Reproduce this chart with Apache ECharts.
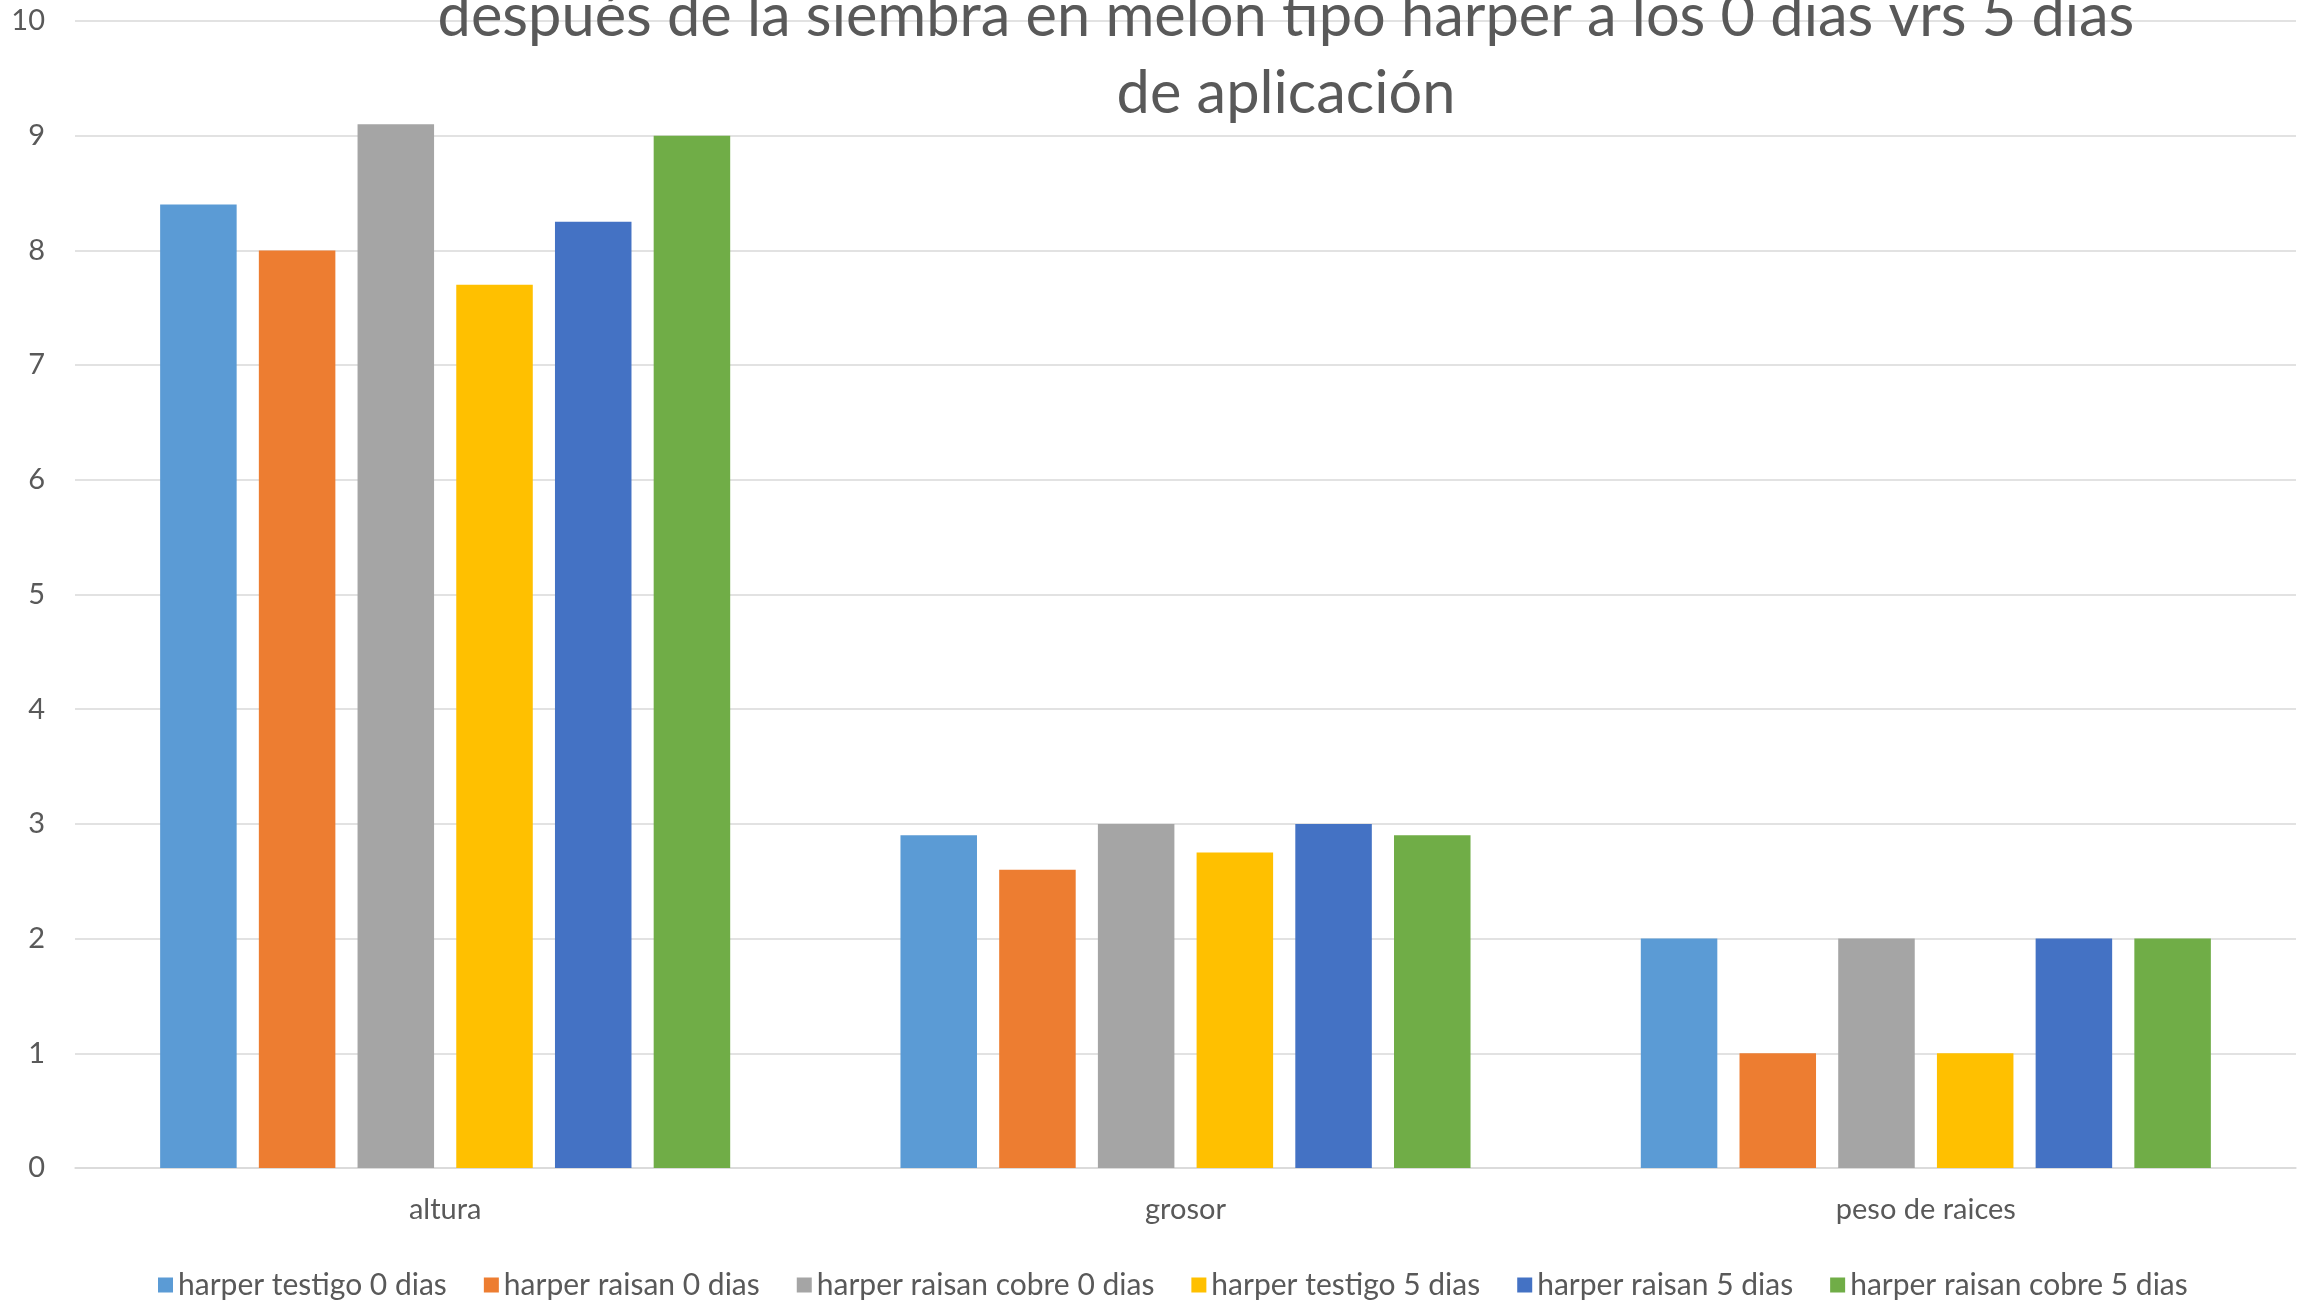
<!DOCTYPE html>
<html>
<head>
<meta charset="utf-8">
<script src="https://cdn.jsdelivr.net/npm/echarts@6/dist/echarts.min.js"></script>
<style>
  html, body { margin: 0; padding: 0; background: #fff; }
  #main { width: 2311px; height: 1301px; }
</style>
</head>
<body>
<div id="main"></div>
<script>
// datos
var categorias = ['altura', 'grosor', 'peso de raices'];
var testigo0 = [8.4, 2.9, 2];
var raisan0 = [8, 2.6, 1];
var raisanCobre0 = [9.1, 3, 2];
var testigo5 = [7.7, 2.75, 1];
var raisan5 = [8.25, 3, 2];
var raisanCobre5 = [9, 2.9, 2];
var nombres = [
    'harper testigo 0 dias',
    'harper raisan 0 dias',
    'harper raisan cobre 0 dias',
    'harper testigo 5 dias',
    'harper raisan 5 dias',
    'harper raisan cobre 5 dias'
];
var colores = ['#5B9BD5', '#ED7D31', '#A5A5A5', '#FFC000', '#4472C4', '#70AD47'];

var fuente = 'Lato, "Open Sans", sans-serif';
var valores = [testigo0, raisan0, raisanCobre0, testigo5, raisan5, raisanCobre5];

var myChart = echarts.init(document.getElementById('main'));
var option = {
    color: colores,
    animation: false,
    title: {
        text: 'después de la siembra en melon tipo harper a los 0 dias vrs 5 dias\nde aplicación',
        left: 1281,
        top: -27,
        textAlign: 'center',
        textStyle: {
            fontFamily: fuente,
            fontSize: 59.5,
            lineHeight: 77,
            fontWeight: 'normal',
            color: '#595959'
        }
    },
    legend: {
        bottom: -4,
        left: 153,
        itemWidth: 15,
        itemHeight: 15,
        itemGap: 37,
        icon: 'rect',
        textStyle: {
            fontFamily: fuente,
            fontSize: 30,
            color: '#595959'
        },
        data: nombres
    },
    grid: {
        left: 75,
        right: 15,
        top: 21,
        bottom: 133
    },
    xAxis: {
        type: 'category',
        data: categorias,
        axisTick: { show: false },
        axisLine: { lineStyle: { color: '#D9D9D9', width: 1.5 } },
        axisLabel: {
            margin: 27,
            fontFamily: fuente,
            fontSize: 29,
            color: '#595959'
        }
    },
    yAxis: {
        type: 'value',
        min: 0,
        max: 10,
        interval: 1,
        axisLine: { show: false },
        axisTick: { show: false },
        splitLine: { lineStyle: { color: '#D9D9D9', width: 1.5 } },
        axisLabel: {
            margin: 30,
            fontFamily: fuente,
            fontSize: 29,
            color: '#595959'
        }
    },
    series: nombres.map(function (n, i) {
        return {
            name: n,
            type: 'bar',
            barGap: '29%',
            barCategoryGap: '23%',
            data: valores[i]
        };
    })
};
myChart.setOption(option);
</script>
</body>
</html>
